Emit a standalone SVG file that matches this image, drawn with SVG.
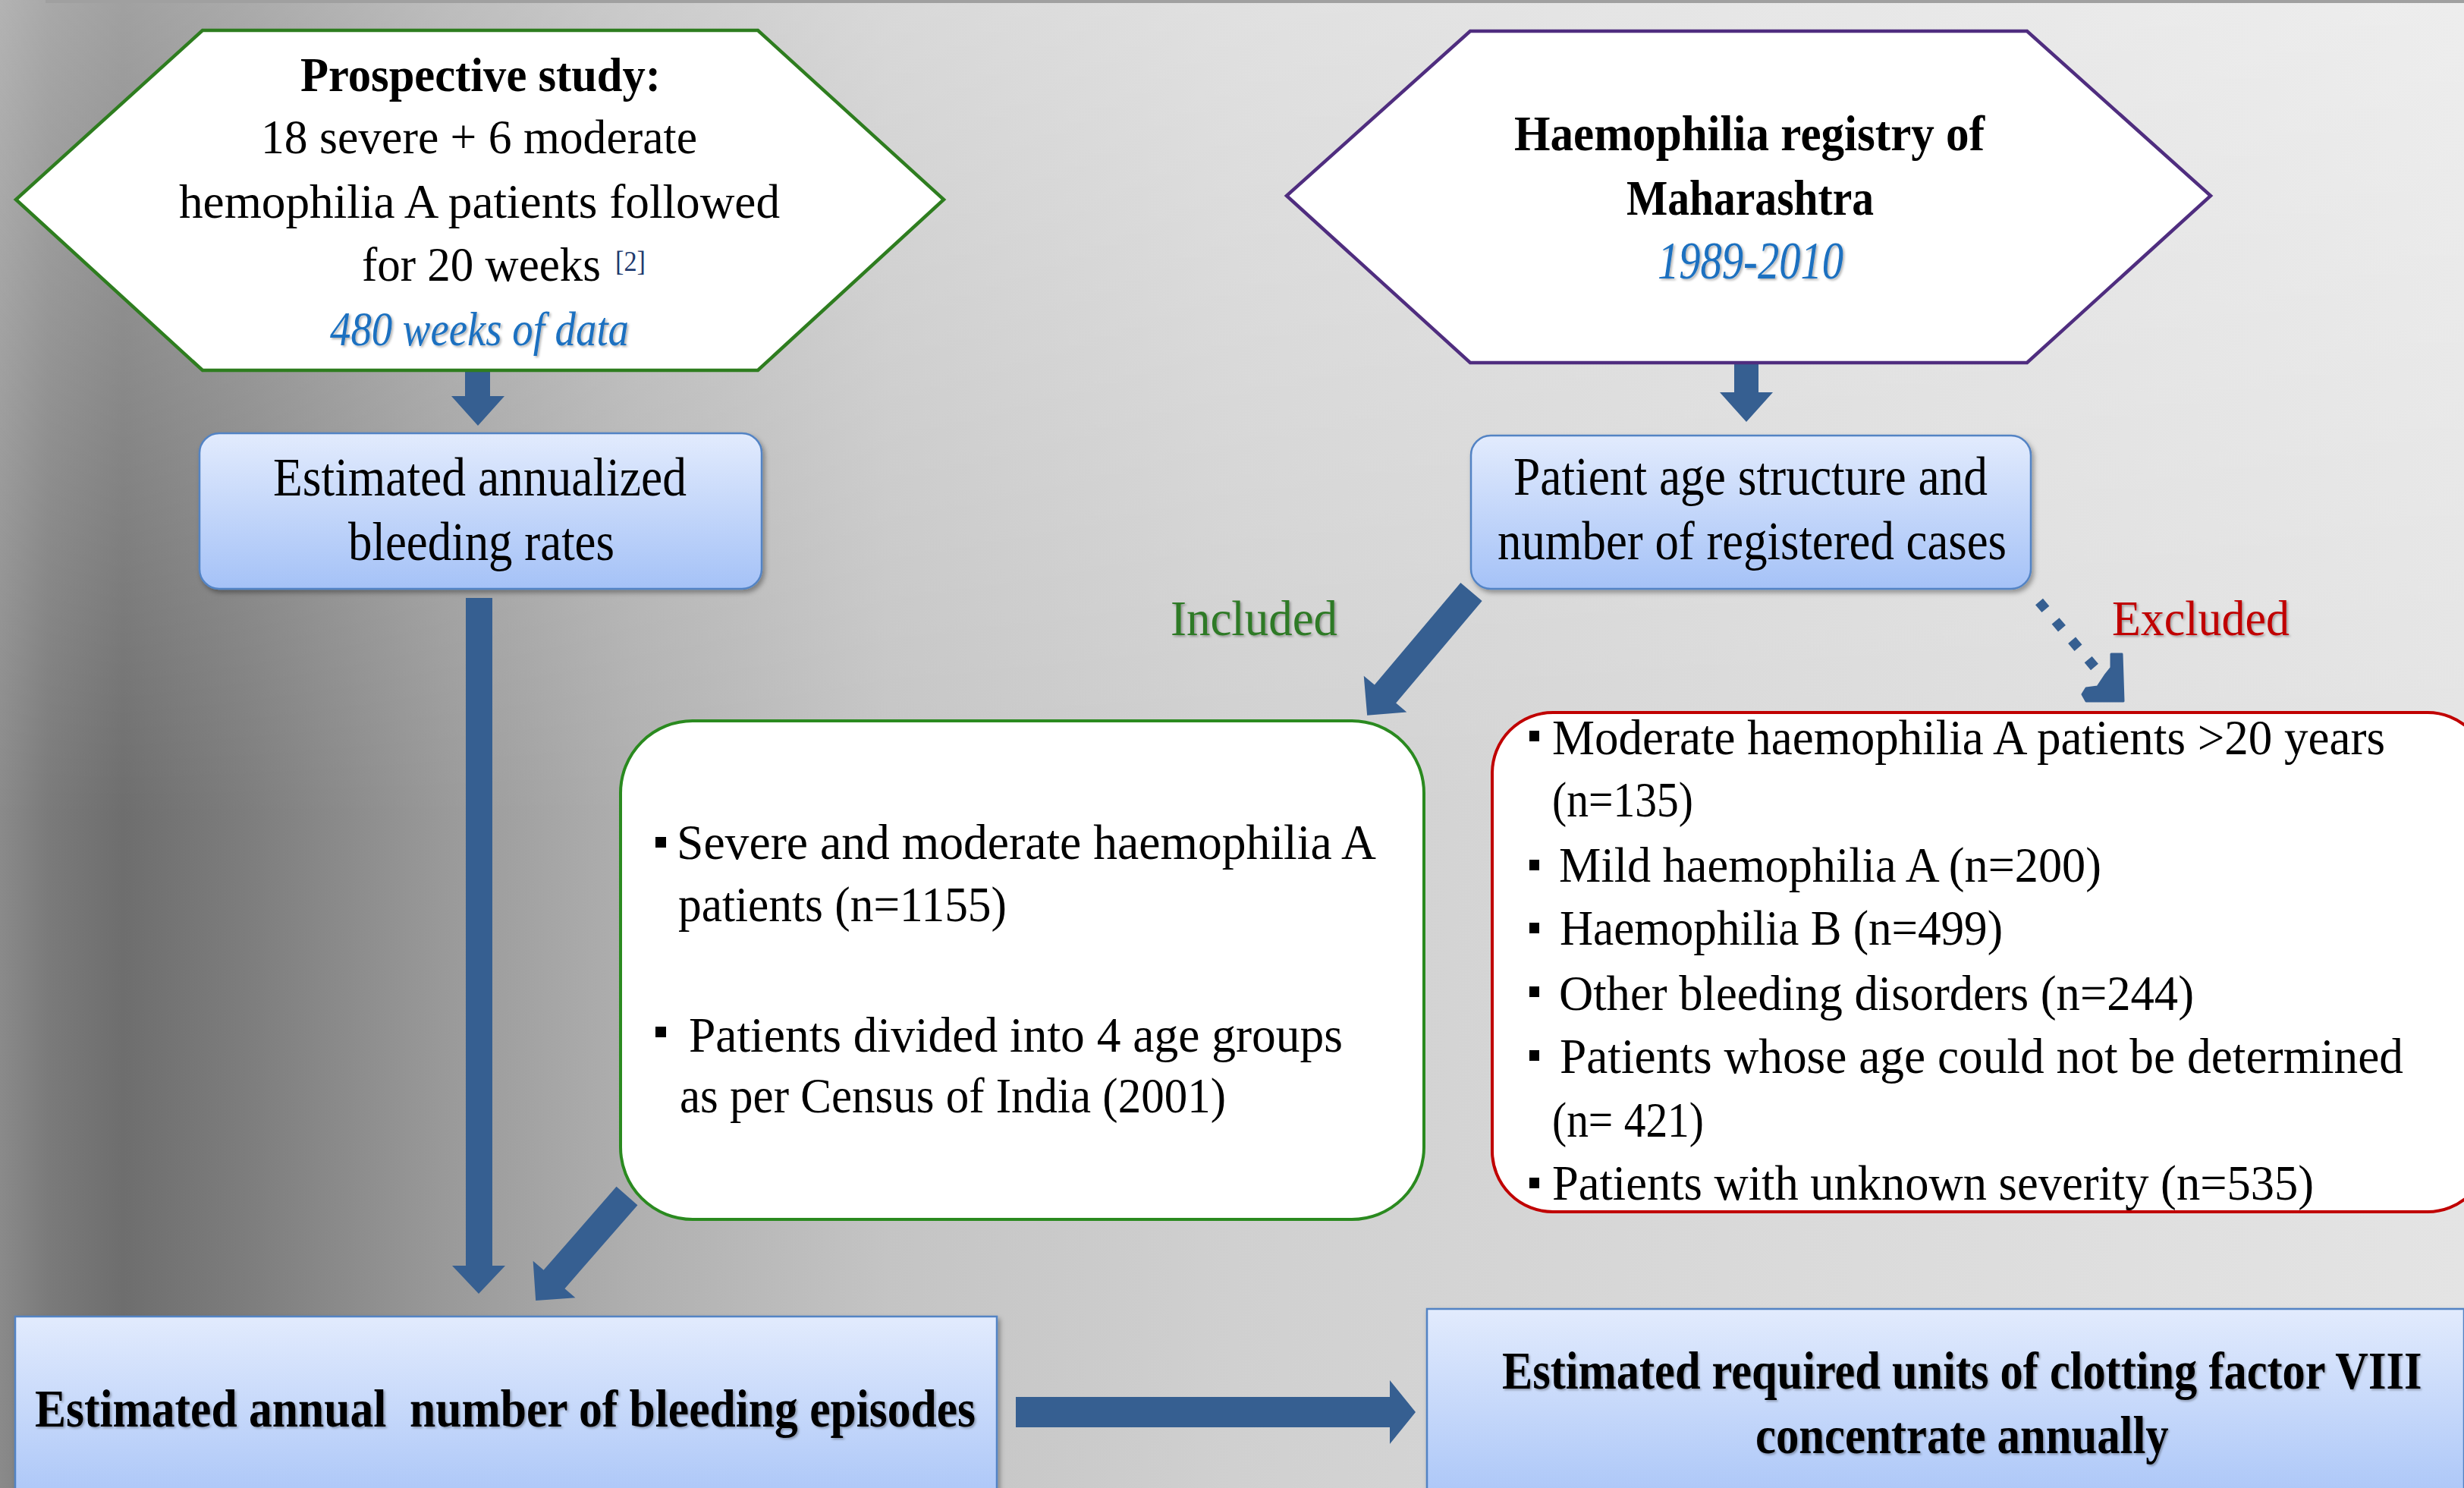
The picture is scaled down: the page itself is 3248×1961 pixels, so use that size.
<svg xmlns="http://www.w3.org/2000/svg" width="3248" height="1961" viewBox="0 0 3248 1961">
<defs>
<linearGradient id="bgH" x1="0" y1="0" x2="1" y2="0">
<stop offset="0" stop-color="#8a8a8a"/>
<stop offset="0.02" stop-color="#7a7a7a"/>
<stop offset="0.05" stop-color="#6e6e6e"/>
<stop offset="0.1" stop-color="#7d7d7d"/>
<stop offset="0.18" stop-color="#999999"/>
<stop offset="0.26" stop-color="#b0b0b0"/>
<stop offset="0.36" stop-color="#c4c4c4"/>
<stop offset="0.5" stop-color="#d0d0d0"/>
<stop offset="0.7" stop-color="#d9d9d9"/>
<stop offset="1" stop-color="#e4e4e4"/>
</linearGradient>
<linearGradient id="bgV" x1="0" y1="0" x2="0" y2="1">
<stop offset="0" stop-color="#ffffff" stop-opacity="0.35"/>
<stop offset="0.55" stop-color="#ffffff" stop-opacity="0"/>
</linearGradient>
<linearGradient id="boxg" x1="0" y1="0" x2="0" y2="1">
<stop offset="0" stop-color="#e2ebfd"/>
<stop offset="1" stop-color="#a5c2f7"/>
</linearGradient>
<filter id="shadow" x="-5%" y="-5%" width="110%" height="120%">
<feDropShadow dx="3" dy="4" stdDeviation="3" flood-color="#000" flood-opacity="0.35"/>
</filter>
<filter id="tshadow" x="-5%" y="-10%" width="110%" height="130%">
<feDropShadow dx="2" dy="2" stdDeviation="1.5" flood-color="#000" flood-opacity="0.3"/>
</filter>
<style>
text { font-family: "Liberation Serif", "Times New Roman", serif; fill: #000; }
.t64 { font-size: 64px; }
.t66 { font-size: 66px; }
.t70 { font-size: 70px; }
.t72 { font-size: 72px; }
.b { font-weight: bold; }
.blueit { font-style: italic; fill: #1a70c0; filter: url(#tshadow); }
.box { fill: url(#boxg); stroke: #5283c4; stroke-width: 2.5; filter: url(#shadow); }
.arrow { fill: #365f91; }
.bul { fill: #000; }
</style>
</defs>

<rect x="0" y="0" width="3248" height="1961" fill="url(#bgH)"/>
<rect x="0" y="0" width="3248" height="1961" fill="url(#bgV)"/>
<rect x="60" y="0" width="3188" height="4" fill="#a0a0a0"/>

<g id="connectors">
<polygon class="arrow" points="613,488 646,488 646,522 665,522 630,561 595,522 613,522"/>
<polygon class="arrow" points="2286,478 2318,478 2318,517 2337,517 2302,556 2267,517 2286,517"/>
<polygon class="arrow" points="614,788 649,788 649,1668 666,1668 631,1705 596,1668 614,1668"/>
<polygon class="arrow" points="1339,1841 1832,1841 1832,1819 1866,1861 1832,1903 1832,1881 1339,1881"/>
<polygon class="arrow" points="0,-18.5 176,-18.5 176,-37 213,0 176,37 176,18.5 0,18.5" transform="translate(1939.5,780) rotate(130.15)"/>
<polygon class="arrow" points="0,-18.5 146,-18.5 146,-37 183,0 146,37 146,18.5 0,18.5" transform="translate(826.5,1576) rotate(131.1)"/>
<line x1="2688" y1="793" x2="2761" y2="879" stroke="#365f91" stroke-width="13" stroke-dasharray="13 20.3"/>
<polygon class="arrow" points="2783,862 2797,862 2799,924 2750,924 2745,915 2750,907 2765,905 2775,890 2783,880" stroke="#365f91" stroke-width="3" stroke-linejoin="round"/>
</g>

<g id="hex-prospective">
<polygon points="267,40 999,40 1244,263 999,488 267,488 21,263" fill="#ffffff" stroke="#2e7d1f" stroke-width="4.5"/>
<text class="t64 b" x="396" y="120" textLength="475" lengthAdjust="spacingAndGlyphs">Prospective study:</text>
<text class="t64" x="344" y="202" textLength="575" lengthAdjust="spacingAndGlyphs">18 severe + 6 moderate</text>
<text class="t64" x="236" y="287" textLength="792" lengthAdjust="spacingAndGlyphs">hemophilia A patients followed</text>
<text class="t64" x="477" y="370" textLength="315" lengthAdjust="spacingAndGlyphs">for 20 weeks</text>
<text x="811" y="357" font-size="38" textLength="40" lengthAdjust="spacingAndGlyphs" style="fill:#1f3a6e">[2]</text>
<text class="t64 blueit" x="435" y="455" textLength="394" lengthAdjust="spacingAndGlyphs">480 weeks of data</text>
</g>

<g id="hex-registry">
<polygon points="1938,41 2672,41 2914,258 2672,478 1938,478 1696,258" fill="#ffffff" stroke="#4f2d7f" stroke-width="4.5"/>
<text class="t66 b" x="1996" y="198" textLength="620" lengthAdjust="spacingAndGlyphs">Haemophilia registry of</text>
<text class="t66 b" x="2144" y="283" textLength="326" lengthAdjust="spacingAndGlyphs">Maharashtra</text>
<text class="t70 blueit" x="2185" y="367" textLength="245" lengthAdjust="spacingAndGlyphs">1989-2010</text>
</g>

<g id="box-bleeding-rates">
<rect class="box" x="263" y="571" width="741" height="205" rx="26"/>
<text class="t72" x="360" y="653" textLength="545" lengthAdjust="spacingAndGlyphs">Estimated annualized</text>
<text class="t72" x="459" y="738" textLength="351" lengthAdjust="spacingAndGlyphs">bleeding rates</text>
</g>

<g id="box-age-structure">
<rect class="box" x="1939" y="574" width="738" height="202" rx="26"/>
<text class="t72" x="1995" y="652" textLength="625" lengthAdjust="spacingAndGlyphs">Patient age structure and</text>
<text class="t72" x="1974" y="737" textLength="671" lengthAdjust="spacingAndGlyphs">number of registered cases</text>
</g>

<g id="label-included">
<text class="t66" x="1543" y="837" textLength="220" lengthAdjust="spacingAndGlyphs" style="fill:#2f7a26;filter:url(#tshadow)">Included</text>
</g>
<g id="label-excluded">
<text class="t66" x="2784" y="837" textLength="234" lengthAdjust="spacingAndGlyphs" style="fill:#c00000;filter:url(#tshadow)">Excluded</text>
</g>

<g id="box-included">
<rect x="818" y="950" width="1059" height="657" rx="95" fill="#ffffff" stroke="#2a8a1f" stroke-width="4"/>
<rect class="bul" x="864" y="1103" width="14" height="14"/>
<text class="t66" x="892" y="1132" textLength="922" lengthAdjust="spacingAndGlyphs">Severe and moderate haemophilia A</text>
<text class="t66" x="894" y="1214" textLength="433" lengthAdjust="spacingAndGlyphs">patients (n=1155)</text>
<rect class="bul" x="864" y="1353" width="14" height="14"/>
<text class="t66" x="908" y="1386" textLength="862" lengthAdjust="spacingAndGlyphs">Patients divided into 4 age groups</text>
<text class="t66" x="896" y="1466" textLength="720" lengthAdjust="spacingAndGlyphs">as per Census of India (2001)</text>
</g>

<g id="box-excluded">
<rect x="1967" y="939" width="1313" height="658" rx="80" fill="#ffffff" stroke="#c00000" stroke-width="4"/>
<rect class="bul" x="2016" y="963" width="13" height="14"/>
<text class="t66" x="2046" y="994" textLength="1098" lengthAdjust="spacingAndGlyphs">Moderate haemophilia A patients &gt;20 years</text>
<text class="t66" x="2046" y="1076" textLength="186" lengthAdjust="spacingAndGlyphs">(n=135)</text>
<rect class="bul" x="2016" y="1133" width="13" height="14"/>
<text class="t66" x="2055" y="1162" textLength="715" lengthAdjust="spacingAndGlyphs">Mild haemophilia A (n=200)</text>
<rect class="bul" x="2016" y="1216" width="13" height="14"/>
<text class="t66" x="2056" y="1245" textLength="584" lengthAdjust="spacingAndGlyphs">Haemophilia B (n=499)</text>
<rect class="bul" x="2016" y="1300" width="13" height="14"/>
<text class="t66" x="2055" y="1331" textLength="837" lengthAdjust="spacingAndGlyphs">Other bleeding disorders (n=244)</text>
<rect class="bul" x="2016" y="1384" width="13" height="14"/>
<text class="t66" x="2056" y="1414" textLength="1112" lengthAdjust="spacingAndGlyphs">Patients whose age could not be determined</text>
<text class="t66" x="2046" y="1498" textLength="200" lengthAdjust="spacingAndGlyphs">(n= 421)</text>
<rect class="bul" x="2016" y="1552" width="13" height="14"/>
<text class="t66" x="2046" y="1581" textLength="1004" lengthAdjust="spacingAndGlyphs">Patients with unknown severity (n=535)</text>
</g>

<g id="box-episodes">
<rect class="box" x="20" y="1735" width="1294" height="270"/>
<text class="t70 b" x="46" y="1880" textLength="1240" lengthAdjust="spacingAndGlyphs" xml:space="preserve" style="filter:url(#tshadow)">Estimated annual  number of bleeding episodes</text>
</g>

<g id="box-units">
<rect class="box" x="1881" y="1725" width="1367" height="280"/>
<text class="t70 b" transform="translate(1980,1830) scale(0.866,1)" x="0" y="0" textLength="1400" lengthAdjust="spacingAndGlyphs" style="filter:url(#tshadow)">Estimated required units of clotting factor VIII</text>
<text class="t70 b" transform="translate(2314,1915) scale(0.866,1)" x="0" y="0" textLength="629" lengthAdjust="spacingAndGlyphs" style="filter:url(#tshadow)">concentrate annually</text>
</g>
</svg>
